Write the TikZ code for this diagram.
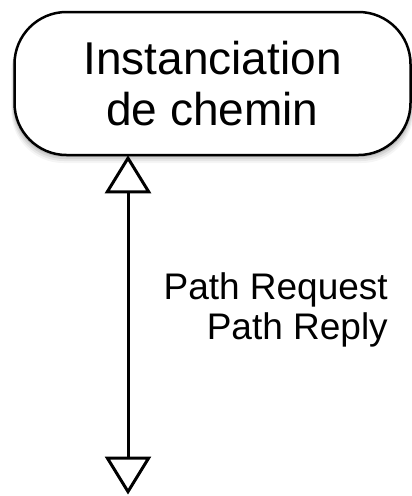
\documentclass[tikz,border=0pt]{standalone}
\usepackage{fontspec}
\setmainfont{Liberation Sans}
\usetikzlibrary{arrows.meta,calc}
\tikzset{
  procbox/.style={draw=black, line width=2.5pt, rounded corners=52pt, fill=white,
    minimum width=396pt, minimum height=143pt, align=center, inner sep=0pt,
    font=\fontsize{46}{51}\selectfont},
  msg/.style={line width=3pt, {Triangle[open,width=46pt,length=38pt]}-{Triangle[open,width=46pt,length=38pt]}},
  lbl/.style={align=right, inner sep=0pt, font=\fontsize{37}{40}\selectfont}
}
\begin{document}
\begin{tikzpicture}[x=1pt,y=-1pt]
\useasboundingbox (0,0) rectangle (412,496);
% soft shadow
\foreach \o/\op in {9/0.04,7/0.06,5/0.08,3/0.1}{
  \fill[black,opacity=\op,rounded corners=52pt] (14-\o*0.3,11+\o) rectangle (411+\o*0.3,154+\o);
}
\node[procbox] (box) at (212.5,83.5) {Instanciation\\de chemin};
\coordinate (bottom) at (128,494.5);
\coordinate (top) at ($(box.south -| bottom)+(0,-1)$);
\draw[msg] (top) -- (bottom);
\node[lbl, anchor=north east] (label) at (388,272) {Path Request\\Path Reply};
\end{tikzpicture}
\end{document}
